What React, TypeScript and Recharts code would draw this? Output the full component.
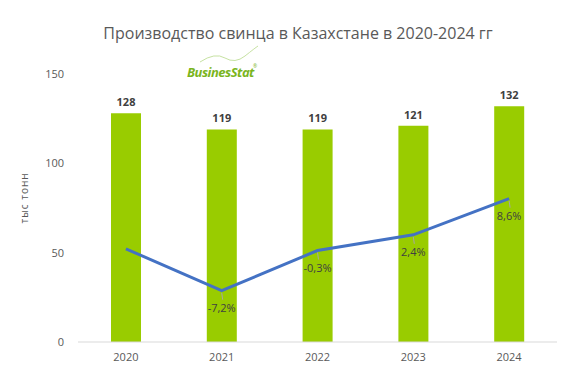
import React from 'react';
import { ComposedChart, Bar, Line, XAxis, YAxis, LabelList } from 'recharts';

const years = ['2020', '2021', '2022', '2023', '2024'];
const production = [128, 119, 119, 121, 132];
const growth = [0.0, -7.2, -0.3, 2.4, 8.6];
const growthLabels = ['', '-7,2%', '-0,3%', '2,4%', '8,6%'];
const yTicks = [0, 50, 100, 150];

const data = years.map((y, i) => ({
  year: y,
  production: production[i],
  growth: growth[i],
  label: growthLabels[i],
}));

const FONT = '"Open Sans", sans-serif';

const GrowthLabel = (props: any) => {
  const { x, y, index } = props;
  const text = growthLabels[index];
  if (!text) return null;
  return (
    <g>
      <line x1={x} y1={y + 2} x2={x + 1} y2={y + 9} stroke="#a6a6a6" strokeWidth={1} />
      <text x={x} y={y + 21} textAnchor="middle" fontFamily={FONT} fontSize={11} fill="#404040">
        {text}
      </text>
    </g>
  );
};

export default function App() {
  return (
    <div style={{ position: 'absolute', left: 0, top: 0, width: 572, height: 391, background: '#fff' }}>
      <ComposedChart
        width={572}
        height={391}
        data={data}
        margin={{ top: 74, right: 15, bottom: 19, left: 0 }}
        barCategoryGap={0}
      >
        <text x={298} y={39} textAnchor="middle" fontFamily={FONT} fontSize={16} fill="#595959">
          Производство свинца в Казахстане в 2020-2024 гг
        </text>
        <g>
          <path d="M200 62 Q 215 52 225 58 T 245 56 T 258 46" fill="none" stroke="#b8d98a" strokeWidth={0.8} />
          <text x={187} y={77} fontFamily={FONT} fontSize={13} fontWeight={700} fontStyle="italic" fill="#7ab51d" letterSpacing={-0.5}>
            BusinesStat
          </text>
          <text x={253} y={68} fontFamily={FONT} fontSize={5} fill="#7ab51d">®</text>
        </g>
        <text
          x={24}
          y={198}
          transform="rotate(-90 24 198)"
          textAnchor="middle"
          dominantBaseline="central"
          fontFamily={FONT}
          fontSize={10}
          letterSpacing={1}
          fill="#595959"
        >
          тыс тонн
        </text>
        <XAxis
          dataKey="year"
          axisLine={{ stroke: '#d9d9d9', strokeWidth: 1 }}
          tickLine={false}
          tickSize={0}
          tickMargin={11}
          height={30}
          tick={{ fill: '#595959', fontSize: 11, fontFamily: FONT }}
        />
        <YAxis
          yAxisId="left"
          width={78}
          domain={[0, 150]}
          ticks={yTicks}
          axisLine={false}
          tickLine={false}
          tickSize={0}
          tickMargin={14}
          tick={{ fill: '#595959', fontSize: 11, fontFamily: FONT }}
        />
        <YAxis yAxisId="right" orientation="right" hide domain={[-16, 30]} />
        <Bar yAxisId="left" dataKey="production" fill="#99cc00" barSize={30} isAnimationActive={false}>
          <LabelList
            dataKey="production"
            position="top"
            offset={7}
            style={{ fontFamily: FONT, fontSize: 11, fontWeight: 700, fill: '#404040' }}
          />
        </Bar>
        <Line
          yAxisId="right"
          dataKey="growth"
          stroke="#4472c4"
          strokeWidth={3}
          dot={false}
          activeDot={false}
          isAnimationActive={false}
          label={<GrowthLabel />}
        />
      </ComposedChart>
    </div>
  );
}
